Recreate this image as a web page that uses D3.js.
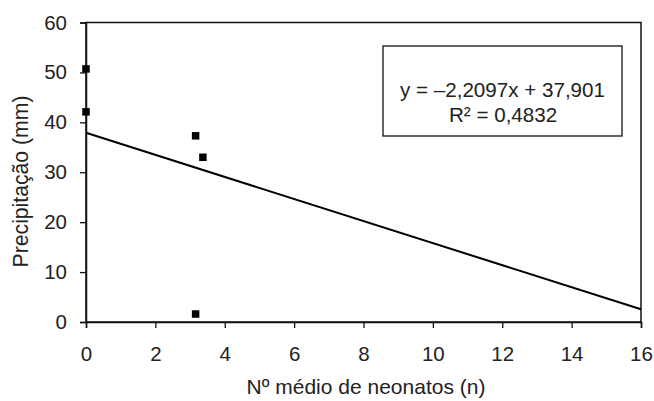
<!DOCTYPE html>
<html>
<head>
<meta charset="utf-8">
<script src="https://cdn.jsdelivr.net/npm/d3@7"></script>
<style>
    body { margin: 0; background: #fff; }
    svg text { font-family: "Liberation Sans", Arial, sans-serif; fill: #222; }
</style>
</head>
<body>
<div id="chart"></div>
<script>
// observed points (neonates, precipitation)
var neonatos = [0, 0, 3.16, 3.37, 3.16];
var precipitacao = [50.7, 42.1, 37.3, 33.0, 1.6];

// linear trend given on chart
var slope = -2.2097;
var intercept = 37.901;
var equationLines = ["y = \u20132,2097x + 37,901", "R\u00b2 = 0,4832"];

var xTicks = [0, 2, 4, 6, 8, 10, 12, 14, 16];
var yTicks = [0, 10, 20, 30, 40, 50, 60];

var width = 654, height = 401;
var margin = { top: 22.5, right: 13, bottom: 79, left: 86 };
var plotW = width - margin.left - margin.right;
var plotH = height - margin.top - margin.bottom;

var xScale = d3.scaleLinear().domain([0, 16]).range([0, plotW]);
var yScale = d3.scaleLinear().domain([0, 60]).range([plotH, 0]);

var svg = d3.select("#chart").append("svg")
    .attr("width", width)
    .attr("height", height);

var g = svg.append("g")
    .attr("transform", "translate(" + margin.left + "," + margin.top + ")");

// frame
g.append("rect")
    .attr("x", 0).attr("y", 0)
    .attr("width", plotW).attr("height", plotH)
    .attr("fill", "none")
    .attr("stroke", "#111")
    .attr("stroke-width", 1.5);

// x axis
var xAxis = g.append("g")
    .attr("transform", "translate(0," + plotH + ")")
    .call(d3.axisBottom(xScale).tickValues(xTicks).tickSize(6).tickPadding(18));

// y axis
var yAxis = g.append("g")
    .call(d3.axisLeft(yScale).tickValues(yTicks).tickSize(6).tickPadding(13));

[xAxis, yAxis].forEach(function(ax) {
    ax.select(".domain").attr("stroke", "#111").attr("stroke-width", 1.5);
    ax.selectAll(".tick line").attr("stroke", "#111").attr("stroke-width", 1.3);
    ax.selectAll(".tick text")
        .style("font-family", "'Liberation Sans', Arial, sans-serif")
        .style("font-size", "20.5px")
        .attr("fill", "#222");
});

// trend line
g.append("line")
    .attr("x1", xScale(0))
    .attr("y1", yScale(intercept))
    .attr("x2", xScale(16))
    .attr("y2", yScale(intercept + slope * 16))
    .attr("stroke", "#000")
    .attr("stroke-width", 2);

// points
var markerSize = 7.5;
g.selectAll("rect.point")
    .data(neonatos)
    .enter()
    .append("rect")
    .attr("class", "point")
    .attr("x", function(d) { return xScale(d) - markerSize / 2; })
    .attr("y", function(d, i) { return yScale(precipitacao[i]) - markerSize / 2; })
    .attr("width", markerSize)
    .attr("height", markerSize)
    .attr("fill", "#000");

// equation box
svg.append("rect")
    .attr("x", 383).attr("y", 46)
    .attr("width", 239).attr("height", 90)
    .attr("fill", "#fff")
    .attr("stroke", "#111")
    .attr("stroke-width", 1.3);

svg.append("text")
    .attr("x", 400).attr("y", 97)
    .style("font-size", "20.6px")
    .text(equationLines[0]);

svg.append("text")
    .attr("x", 449).attr("y", 122)
    .style("font-size", "20.6px")
    .text(equationLines[1]);

// axis titles
svg.append("text")
    .attr("x", 366)
    .attr("y", 394)
    .attr("text-anchor", "middle")
    .style("font-size", "21px")
    .text("N\u00ba m\u00e9dio de neonatos (n)");

svg.append("text")
    .attr("transform", "translate(28,181.5) rotate(-90)")
    .attr("text-anchor", "middle")
    .style("font-size", "21.2px")
    .text("Precipita\u00e7\u00e3o (mm)");
</script>
</body>
</html>
